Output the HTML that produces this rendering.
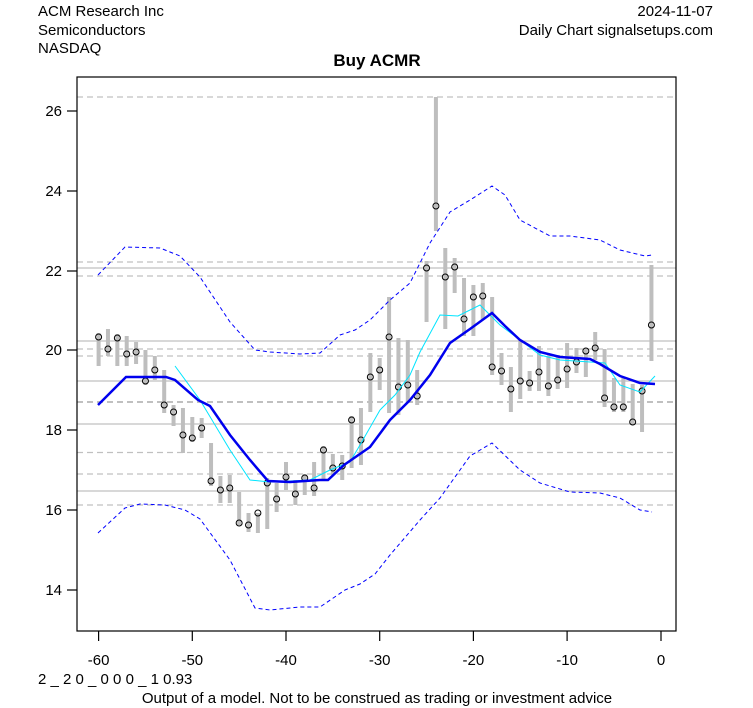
<!DOCTYPE html>
<html><head><meta charset="utf-8"><style>
body{margin:0;background:#fff}
svg{display:block;font-family:"Liberation Sans",Arial,sans-serif}
</style></head><body>
<svg id="s" width="753" height="708" viewBox="0 0 753 708" xmlns="http://www.w3.org/2000/svg">
<rect width="753" height="708" fill="#fff"/>
<text x="38" y="16" font-size="15">ACM Research Inc</text>
<text x="38" y="35" font-size="15">Semiconductors</text>
<text x="38" y="53" font-size="15">NASDAQ</text>
<text x="713" y="16" font-size="15" text-anchor="end">2024-11-07</text>
<text x="713" y="35" font-size="15" text-anchor="end">Daily Chart signalsetups.com</text>
<text x="377" y="66" font-size="17" font-weight="bold" text-anchor="middle">Buy ACMR</text>
<g stroke="#c0c0c0" stroke-width="1.2" stroke-dasharray="6,4">
<line x1="77" x2="676" y1="97" y2="97"/><line x1="77" x2="676" y1="262" y2="262"/><line x1="77" x2="676" y1="276" y2="276"/>
<line x1="77" x2="676" y1="349" y2="349"/><line x1="77" x2="676" y1="356" y2="356"/><line x1="77" x2="676" y1="402" y2="402" stroke-width="2"/>
<line x1="77" x2="676" y1="452.5" y2="452.5"/><line x1="77" x2="676" y1="474" y2="474"/><line x1="77" x2="676" y1="505" y2="505"/>
</g>
<g stroke="#c0c0c0" stroke-width="1.2">
<line x1="77" x2="676" y1="268" y2="268"/><line x1="77" x2="676" y1="341" y2="341"/><line x1="77" x2="676" y1="381" y2="381"/>
<line x1="77" x2="676" y1="424" y2="424"/><line x1="77" x2="676" y1="491" y2="491"/>
</g>
<g id="c"></g>
<polyline fill="none" stroke="#0000ff" stroke-width="1" stroke-dasharray="4,3" points="98,275 125,247 160,248 180,256 200,277 230,322 255,350 270,352 300,354 320,353 340,335 355,330 370,320 390,300 410,283 430,243 450,212 470,200 492,186 505,195 520,220 550,236 570,236 600,240 620,250 645,256 652,255"/>
<polyline fill="none" stroke="#0000ff" stroke-width="1" stroke-dasharray="4,3" points="98,533 125,508 140,504 165,505 185,510 200,519 230,560 255,608 270,610 300,607 320,607 345,590 360,584 375,574 390,555 420,520 440,498 470,456 492,443 520,470 540,483 570,492 600,493 620,498 640,510 652,512"/>
<polyline fill="none" stroke="#00e5ff" stroke-width="1" points="175,366 200,400 230,450 250,480 270,482 310,480 330,470 350,462 360,445 380,410 395,395 410,375 420,352 440,315 458,316 480,305 500,325 520,340 540,355 560,360 590,362 605,363 620,385 640,392 655,376"/>
<polyline fill="none" stroke="#0000ee" stroke-width="2.5" points="98,405 126,377 150,377 166,377 175,380 198,400 210,406 230,435 250,460 268,481 290,482 320,480 328,480 344,465 370,447 390,420 410,400 430,375 450,343 470,329 492,313 505,326 520,340 540,352 560,357 590,359 600,364 620,376 640,383 655,384"/>
<rect x="77" y="77" width="599" height="554" fill="none" stroke="#000" stroke-width="1.2"/>
<g stroke="#000" stroke-width="1.2">
<line x1="67" x2="77" y1="111" y2="111"/><line x1="67" x2="77" y1="191" y2="191"/><line x1="67" x2="77" y1="271" y2="271"/>
<line x1="67" x2="77" y1="350" y2="350"/><line x1="67" x2="77" y1="430" y2="430"/><line x1="67" x2="77" y1="510" y2="510"/><line x1="67" x2="77" y1="590" y2="590"/>
<line x1="98.6" x2="98.6" y1="631" y2="641"/><line x1="192.3" x2="192.3" y1="631" y2="641"/><line x1="286" x2="286" y1="631" y2="641"/>
<line x1="379.7" x2="379.7" y1="631" y2="641"/><line x1="473.4" x2="473.4" y1="631" y2="641"/><line x1="567.1" x2="567.1" y1="631" y2="641"/><line x1="661" x2="661" y1="631" y2="641"/>
</g>
<g font-size="15" text-anchor="end">
<text x="62" y="116">26</text><text x="62" y="196">24</text><text x="62" y="276">22</text><text x="62" y="355">20</text>
<text x="62" y="435">18</text><text x="62" y="515">16</text><text x="62" y="595">14</text>
</g>
<g font-size="15" text-anchor="middle">
<text x="98.6" y="665">-60</text><text x="192.3" y="665">-50</text><text x="286" y="665">-40</text><text x="379.7" y="665">-30</text>
<text x="473.4" y="665">-20</text><text x="567.1" y="665">-10</text><text x="661" y="665">0</text>
</g>
<text x="38" y="684" font-size="15">2 _ 2 0 _ 0 0 0 _ 1 0.93</text>
<text x="377" y="703" font-size="15" text-anchor="middle">Output of a model. Not to be construed as trading or investment advice</text>
</svg>
<script>
var d=[[337,333,366],[349,329,356],[338,334,366],[354,336,366],[352,342,364],[381,350,385],[370,356,380],[405,370,413],[412,405,426],[435,408,453],[438,417,442],[428,418,438],[481,443,486],[490,476,503],[488,475,503],[523,492,525],[525,513,532],[513,513,533],[483,478,529],[499,483,512],[477,462,490],[494,480,505],[478,474,495],[488,462,496],[450,446,480],[468,454,475],[466,455,480],[420,416,468],[440,408,465],[377,353,412],[370,358,390],[337,297,413],[387,338,415],[385,340,403],[396,370,405],[268,261,322],[206,97,231],[277,248,329],[267,258,293],[319,278,336],[297,285,336],[296,283,320],[367,297,375],[371,353,385],[389,367,412],[381,340,399],[383,371,391],[372,346,391],[386,356,396],[380,355,389],[369,343,388],[362,348,373],[351,348,377],[348,332,360],[398,349,407],[407,378,412],[407,378,412],[422,384,425],[391,385,432],[325,265,361]];
var g=document.getElementById('c'),h='';
d.forEach(function(v,k){var x=98.6+k*9.37;
h+='<line x1="'+x+'" x2="'+x+'" y1="'+v[1]+'" y2="'+v[2]+'" stroke="#bebebe" stroke-width="4"/>';
h+='<circle cx="'+x+'" cy="'+v[0]+'" r="3" fill="none" stroke="#000" stroke-width="1"/>';});
g.innerHTML=h;
</script>
</body></html>
